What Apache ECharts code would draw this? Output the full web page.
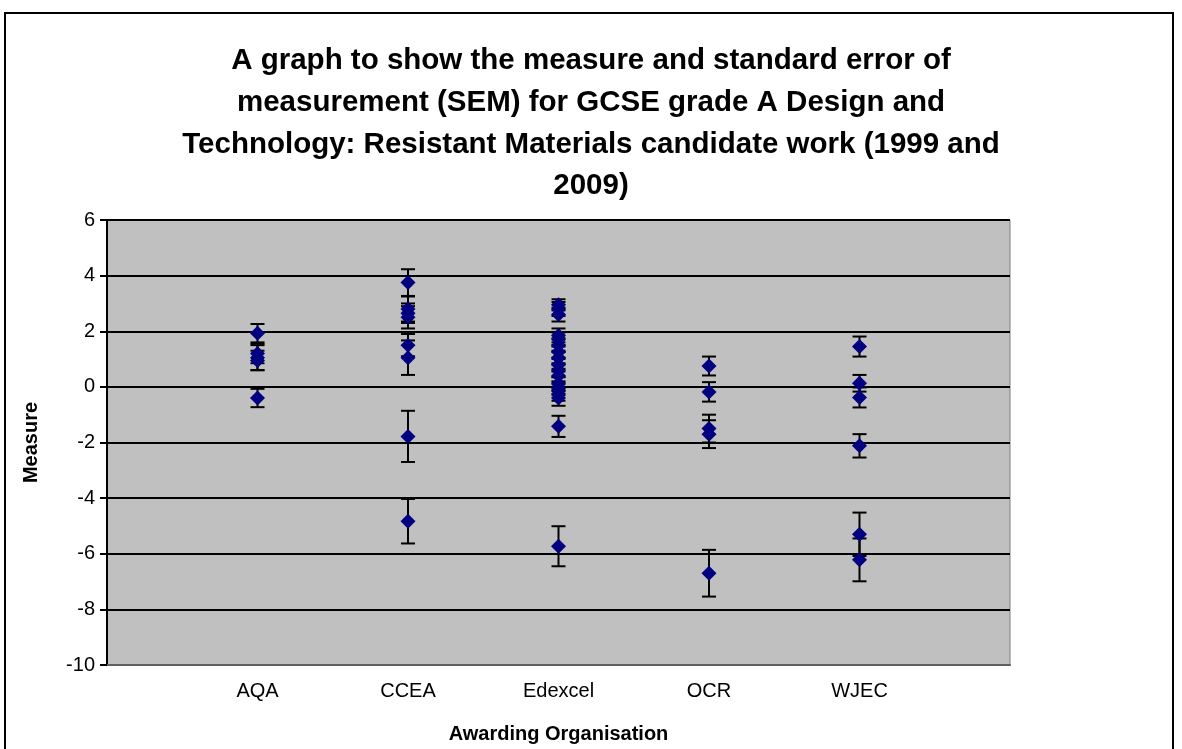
<!DOCTYPE html>
<html>
<head>
<meta charset="utf-8">
<script src="https://cdn.jsdelivr.net/npm/echarts@6/dist/echarts.min.js"></script>
<style>
  html, body { margin: 0; padding: 0; background: #fff; }
  #chart { width: 1182px; height: 749px; }
  .frame {
    position: absolute;
    left: 4px;
    top: 12px;
    width: 1166px;
    height: 760px;
    border: 2px solid #000;
    pointer-events: none;
  }
</style>
</head>
<body>
<div id="chart"></div>
<div class="frame"></div>
<script>
const categories = ["AQA", "CCEA", "Edexcel", "OCR", "WJEC"]
const yTicks = [-10, -8, -6, -4, -2, 0, 2, 4, 6]

// measure and SEM per awarding organisation
const aqaMeasure = [1.93, 1.2, 1.05, 0.95, -0.4]
const aqaSem = [0.33, 0.35, 0.45, 0.35, 0.33]
const cceaMeasure = [3.75, 2.8, 2.65, 2.5, 1.5, 1.05, -1.78, -4.83]
const cceaSem = [0.48, 0.45, 0.35, 0.4, 0.4, 0.62, 0.92, 0.8]
const edexcelMeasure = [2.95, 2.8, 2.6, 1.85, 1.7, 1.5, 1.25, 1.05, 0.8, 0.6, 0.4, 0.1, -0.05, -0.25, -0.4, -1.42, -5.73]
const edexcelSem = [0.2, 0.25, 0.25, 0.25, 0.25, 0.25, 0.25, 0.25, 0.25, 0.25, 0.25, 0.25, 0.25, 0.25, 0.28, 0.38, 0.72]
const ocrMeasure = [0.75, -0.18, -1.5, -1.7, -6.7]
const ocrSem = [0.34, 0.35, 0.5, 0.5, 0.84]
const wjecMeasure = [1.45, 0.13, -0.38, -2.12, -5.3, -6.22]
const wjecSem = [0.36, 0.3, 0.36, 0.42, 0.78, 0.77]

const measures = [aqaMeasure, cceaMeasure, edexcelMeasure, ocrMeasure, wjecMeasure]
const sems = [aqaSem, cceaSem, edexcelSem, ocrSem, wjecSem]

const points = []
const bars = []
measures.forEach((list, i) => {
  list.forEach((m, j) => {
    points.push([i + 1, m])
    bars.push([i + 1, m - sems[i][j], m + sems[i][j]])
  })
})

const font = "'Liberation Sans', Arial, sans-serif"
const chart = echarts.init(document.getElementById("chart"))

chart.setOption({
  animation: false,
  backgroundColor: "#fff",
  title: {
    text: "A graph to show the measure and standard error of\nmeasurement (SEM) for GCSE grade A Design and\nTechnology: Resistant Materials candidate work (1999 and\n2009)",
    left: "center",
    top: 35.5,
    textStyle: {
      fontFamily: font,
      fontWeight: "bold",
      fontSize: 29.5,
      lineHeight: 41.6,
      color: "#000",
    },
  },
  grid: {
    left: 107,
    right: 172,
    top: 220,
    bottom: 84,
    show: true,
    backgroundColor: "#c0c0c0",
    borderColor: "#808080",
    borderWidth: 1,
  },
  xAxis: {
    type: "value",
    min: 0,
    max: 6,
    interval: 1,
    name: "Awarding Organisation",
    nameLocation: "middle",
    nameGap: 59,
    nameTextStyle: { fontFamily: font, fontWeight: "bold", fontSize: 20, color: "#000" },
    axisLine: { show: true, onZero: false, lineStyle: { color: "#606060", width: 2 } },
    axisTick: { show: false },
    splitLine: { show: false },
    axisLabel: {
      fontFamily: font,
      fontSize: 20,
      color: "#000",
      margin: 16,
      formatter: (v) => categories[v - 1] || "",
    },
  },
  yAxis: {
    type: "value",
    min: yTicks[0],
    max: yTicks[yTicks.length - 1],
    interval: 2,
    name: "Measure",
    nameLocation: "middle",
    nameGap: 66,
    nameTextStyle: { fontFamily: font, fontWeight: "bold", fontSize: 20, color: "#000" },
    axisLine: { show: true, onZero: false, lineStyle: { color: "#000", width: 2 } },
    axisTick: { show: true, inside: false, length: 7, lineStyle: { color: "#000", width: 2 } },
    splitLine: { show: true, lineStyle: { color: "#000", width: 2 } },
    axisLabel: { fontFamily: font, fontSize: 20, color: "#000", margin: 12 },
  },
  series: [
    {
      type: "custom",
      data: bars,
      z: 2,
      renderItem: (params, api) => {
        const x = api.value(0)
        const lo = api.coord([x, api.value(1)])
        const hi = api.coord([x, api.value(2)])
        const hw = 7
        const style = { stroke: "#000", lineWidth: 2 }
        return {
          type: "group",
          children: [
            { type: "line", shape: { x1: lo[0], y1: lo[1], x2: hi[0], y2: hi[1] }, style },
            { type: "line", shape: { x1: lo[0] - hw, y1: lo[1], x2: lo[0] + hw, y2: lo[1] }, style },
            { type: "line", shape: { x1: hi[0] - hw, y1: hi[1], x2: hi[0] + hw, y2: hi[1] }, style },
          ],
        }
      },
    },
    {
      type: "scatter",
      data: points,
      z: 3,
      symbol: "diamond",
      symbolSize: 15,
      itemStyle: { color: "#000080", opacity: 1 },
    },
  ],
})
</script>
</body>
</html>
